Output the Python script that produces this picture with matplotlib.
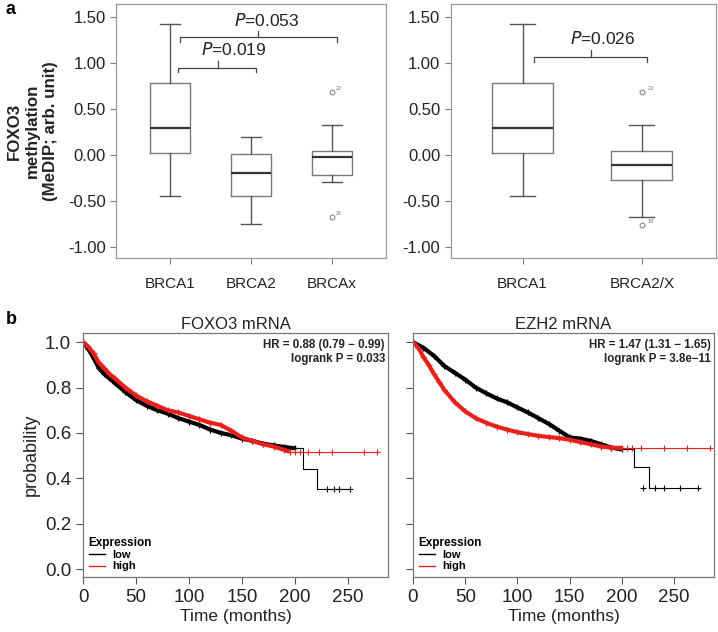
import numpy as np
import matplotlib.pyplot as plt

plt.rcParams['font.family'] = ['Liberation Sans', 'DejaVu Sans']

# ---- panel a: FOXO3 methylation boxplots ----
groups_a1 = ['BRCA1', 'BRCA2', 'BRCAx']
q1_a1 = [0.02, -0.45, -0.22]
med_a1 = [0.29, -0.20, -0.02]
q3_a1 = [0.78, 0.01, 0.04]
wlo_a1 = [-0.45, -0.75, -0.29]
whi_a1 = [1.42, 0.20, 0.33]
out_a1 = [[], [], [0.68, -0.67]]
outlab_a1 = [[], [], ['22', '26']]

groups_a2 = ['BRCA1', 'BRCA2/X']
q1_a2 = [0.02, -0.27]
med_a2 = [0.29, -0.11]
q3_a2 = [0.78, 0.04]
wlo_a2 = [-0.45, -0.67]
whi_a2 = [1.42, 0.33]
out_a2 = [[], [0.68, -0.76]]
outlab_a2 = [[], ['23', '18']]

# ---- panel b: Kaplan-Meier curves ----
# dense part (many events/censorings) + sparse tail drawn as steps
foxo_low_t = [0, 5, 10, 15, 20, 25, 30, 40, 50, 60, 70, 80, 90, 100, 110, 120, 130, 140, 150, 160, 170, 180, 190, 200]
foxo_low_s = [1.0, 0.97, 0.93, 0.885, 0.86, 0.84, 0.82, 0.78, 0.745, 0.72, 0.70, 0.685, 0.665, 0.65, 0.635, 0.615, 0.60, 0.59, 0.575, 0.565, 0.553, 0.545, 0.538, 0.532]
foxo_low_tail_t = [200, 208, 221, 252]
foxo_low_tail_s = [0.532, 0.443, 0.352, 0.352]
foxo_low_cens = [230, 237, 242, 252]

foxo_high_t = [0, 5, 10, 15, 20, 25, 30, 40, 50, 60, 70, 80, 90, 100, 110, 120, 130, 140, 150, 160, 170, 180, 190, 195]
foxo_high_s = [1.0, 0.98, 0.95, 0.91, 0.885, 0.86, 0.84, 0.80, 0.765, 0.74, 0.72, 0.70, 0.69, 0.675, 0.66, 0.645, 0.635, 0.61, 0.58, 0.565, 0.55, 0.54, 0.525, 0.517]
foxo_high_tail_t = [195, 278]
foxo_high_tail_s = [0.517, 0.517]
foxo_high_cens = [200, 205, 212, 223, 235, 265, 278]

ezh2_low_t = [0, 10, 20, 30, 40, 50, 60, 70, 80, 90, 100, 110, 120, 130, 140, 150, 160, 170, 180, 190, 200]
ezh2_low_s = [1.0, 0.975, 0.94, 0.895, 0.865, 0.835, 0.80, 0.775, 0.752, 0.735, 0.712, 0.69, 0.665, 0.64, 0.61, 0.58, 0.575, 0.565, 0.55, 0.535, 0.527]
ezh2_low_tail_t = [200, 212, 226, 273]
ezh2_low_tail_s = [0.527, 0.45, 0.358, 0.358]
ezh2_low_cens = [220, 232, 240, 256, 273]

ezh2_high_t = [0, 5, 10, 15, 20, 25, 30, 40, 50, 60, 70, 80, 90, 100, 110, 120, 130, 140, 150, 160, 170, 180, 190, 200]
ezh2_high_s = [1.0, 0.975, 0.935, 0.90, 0.86, 0.825, 0.79, 0.735, 0.695, 0.665, 0.645, 0.628, 0.615, 0.603, 0.595, 0.587, 0.582, 0.577, 0.57, 0.56, 0.55, 0.54, 0.535, 0.534]
ezh2_high_tail_t = [200, 284]
ezh2_high_tail_s = [0.534, 0.534]
ezh2_high_cens = [205, 210, 218, 240, 262, 284]

GREY = '#7a7a7a'
TXT = '#222222'
RED = '#e8201c'

fig = plt.figure(figsize=(7.18, 6.32), dpi=100)


def boxpanel(ax, groups, q1, med, q3, wlo, whi, outs, labs, width, capw, xlim):
    stats = []
    for i in range(len(groups)):
        stats.append(dict(q1=q1[i], med=med[i], q3=q3[i], whislo=wlo[i], whishi=whi[i], fliers=outs[i]))
    pos = np.arange(1, len(groups) + 1)
    ax.bxp(stats, positions=pos, widths=width, capwidths=capw,
           boxprops=dict(color=GREY, lw=1.0),
           whiskerprops=dict(color='#555555', lw=1.0),
           capprops=dict(color='#555555', lw=1.0),
           medianprops=dict(color='#333333', lw=1.6),
           flierprops=dict(marker='o', markersize=3.5, markerfacecolor='none', markeredgecolor=GREY, markeredgewidth=0.7))
    for i in range(len(groups)):
        for v, l in zip(outs[i], labs[i]):
            ax.text(pos[i] + 0.05, v + 0.01, l, fontsize=4, color=GREY, va='bottom')
    ax.set_xlim(*xlim)
    ax.set_ylim(-1.12, 1.64)
    ax.set_yticks([1.5, 1.0, 0.5, 0.0, -0.5, -1.0])
    ax.set_yticklabels(['1.50', '1.00', '0.50', '0.00', '-0.50', '-1.00'])
    ax.set_xticks(pos)
    ax.set_xticklabels(groups)
    ax.tick_params(axis='y', labelsize=12, colors=TXT, color=GREY, length=4, width=0.8)
    ax.tick_params(axis='x', labelsize=11, colors=TXT, color=GREY, length=4, width=0.8, pad=10)
    for s in ax.spines.values():
        s.set_color('#999999')
        s.set_linewidth(0.9)


def bracket(ax, x1, x2, y, xc, xt, yt, label, hook=0.06, up=0.09):
    ax.plot([x1, x1, x2, x2], [y - hook, y, y, y - hook], color='#444444', lw=0.9)
    ax.plot([xc, xc], [y, y + up], color='#444444', lw=0.9)
    ax.text(xt, yt, r'$\it{P}$' + '=' + label, ha='center', va='center', fontsize=12.5, color=TXT)


ax1 = fig.add_axes([0.1616, 0.5918, 0.376, 0.4019])
boxpanel(ax1, groups_a1, q1_a1, med_a1, q3_a1, wlo_a1, whi_a1, out_a1, outlab_a1, 0.49, 0.25, (0.33, 3.67))
bracket(ax1, 1.12, 3.06, 1.28, 2.09, 2.19, 1.46, '0.053', hook=0.05, up=0.07)
bracket(ax1, 1.10, 2.06, 0.94, 1.59, 1.78, 1.14, '0.019', hook=0.04, up=0.08)
ax1.set_ylabel('FOXO3\nmethylation\n(MeDIP; arb. unit)', fontsize=12.2, fontweight='bold', color=TXT, labelpad=7, linespacing=1.25)

ax2 = fig.add_axes([0.628, 0.5918, 0.369, 0.4019])
boxpanel(ax2, groups_a2, q1_a2, med_a2, q3_a2, wlo_a2, whi_a2, out_a2, outlab_a2, 0.51, 0.21, (0.4, 2.62))
bracket(ax2, 1.10, 2.04, 1.065, 1.57, 1.675, 1.26, '0.026', hook=0.06, up=0.07)

fig.text(0.008, 0.985, 'a', fontsize=13, fontweight='bold', va='center')
fig.text(0.008, 0.495, 'b', fontsize=13, fontweight='bold', va='center')


def kmpanel(ax, low, high, title, hr, pval, ylabels):
    for (t, s, tt, ts, cens), col in zip([low, high], ['black', RED]):
        ax.plot(t, s, color=col, lw=3.0, solid_capstyle='butt')
        ax.plot(t, s, ls='none', marker='+', color=col, ms=4, mew=0.9)
        ax.step(tt, ts, where='post', color=col, lw=0.8)
        ax.plot(cens, [ts[-1]] * len(cens), ls='none', marker='+', color=col, ms=4.5, mew=0.8)
    ax.set_xlim(0, 288)
    ax.set_ylim(-0.035, 1.04)
    ax.set_xticks([0, 50, 100, 150, 200, 250])
    ax.set_yticks([0.0, 0.2, 0.4, 0.6, 0.8, 1.0])
    ax.tick_params(labelsize=13.5, colors=TXT, color='#555555', length=5, width=0.8)
    if not ylabels:
        ax.set_yticklabels([])
    else:
        ax.set_ylabel('probability', fontsize=13, color=TXT)
    ax.set_xlabel('Time (months)', fontsize=12.5, color=TXT, labelpad=2)
    ax.set_title(title, fontsize=12, color=TXT, pad=3)
    for s in ax.spines.values():
        s.set_color('#777777')
        s.set_linewidth(0.9)
    ax.text(0.99, 0.975, hr, transform=ax.transAxes, ha='right', va='top', fontsize=8.3, fontweight='bold', color=TXT)
    ax.text(0.99, 0.92, pval, transform=ax.transAxes, ha='right', va='top', fontsize=8.3, fontweight='bold', color=TXT)
    h1, = ax.plot([], [], color='black', lw=1.0, label='low')
    h2, = ax.plot([], [], color=RED, lw=1.0, label='high')
    ax.legend(handles=[h1, h2], loc='lower left', title='Expression', alignment='left', frameon=False,
              prop={'weight': 'bold', 'size': 8}, title_fontproperties={'weight': 'bold', 'size': 8.5},
              handlelength=1.5, handletextpad=0.6, labelspacing=0.1, borderaxespad=0.3, borderpad=0.2)


ax3 = fig.add_axes([0.1156, 0.087, 0.4248, 0.386])
kmpanel(ax3, (foxo_low_t, foxo_low_s, foxo_low_tail_t, foxo_low_tail_s, foxo_low_cens),
        (foxo_high_t, foxo_high_s, foxo_high_tail_t, foxo_high_tail_s, foxo_high_cens),
        'FOXO3 mRNA', 'HR = 0.88 (0.79 \u2212 0.99)', 'logrank P = 0.033', True)

ax4 = fig.add_axes([0.5752, 0.087, 0.419, 0.386])
kmpanel(ax4, (ezh2_low_t, ezh2_low_s, ezh2_low_tail_t, ezh2_low_tail_s, ezh2_low_cens),
        (ezh2_high_t, ezh2_high_s, ezh2_high_tail_t, ezh2_high_tail_s, ezh2_high_cens),
        'EZH2 mRNA', 'HR = 1.47 (1.31 \u2212 1.65)', 'logrank P = 3.8e\u221211', False)

fig.savefig('out.png', dpi=100)
